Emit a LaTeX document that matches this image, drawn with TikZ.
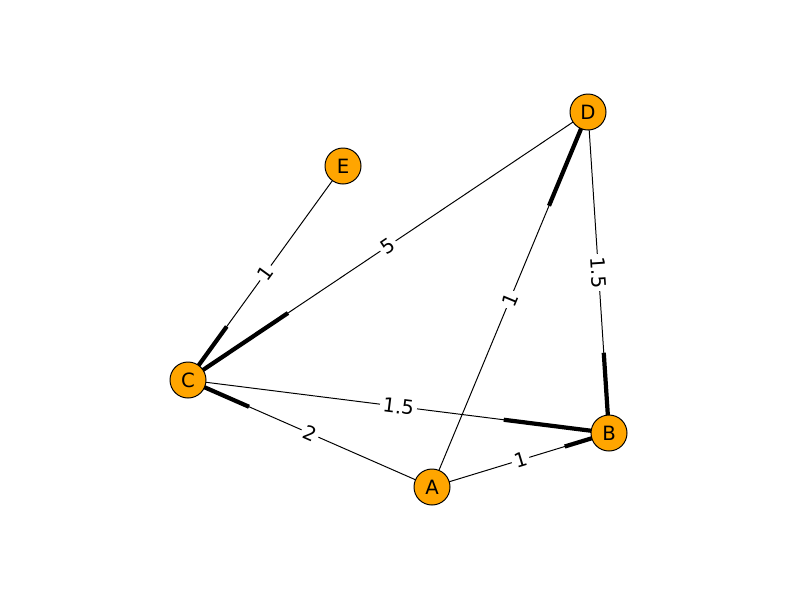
\documentclass[tikz,border=0pt]{standalone}
\usepackage{fontspec}
\setmainfont{DejaVu Sans}
\usetikzlibrary{calc}
\tikzset{
  vtx/.style={circle,draw=black,line width=0.7pt,fill={rgb,255:red,255;green,165;blue,0},minimum size=0.9cm,inner sep=0pt,font=\fontsize{14}{16}\selectfont},
  edgeline/.style={line width=0.7pt,black},
  headline/.style={line width=3pt,black},
  lbl/.style={midway,sloped,fill=white,inner sep=2pt,font=\fontsize{14}{16}\selectfont}
}
\begin{document}
\begin{tikzpicture}[x=0.025cm,y=-0.025cm]
\useasboundingbox (0,0) rectangle (800,600);
\coordinate (pD) at (588,112);
\coordinate (pE) at (343,166);
\coordinate (pC) at (188,380);
\coordinate (pB) at (609,433);
\coordinate (pA) at (432,487);
% edges
\draw[edgeline] (pE) -- (pC) node[lbl]{1};
\draw[headline] (pC) -- ($(pC)!0.25!(pE)$);
\draw[edgeline] (pD) -- (pC) node[lbl]{5};
\draw[headline] (pC) -- ($(pC)!0.25!(pD)$);
\draw[edgeline] (pA) -- (pD) node[lbl]{1};
\draw[headline] (pD) -- ($(pD)!0.25!(pA)$);
\draw[edgeline] (pD) -- (pB) node[lbl]{1.5};
\draw[headline] (pB) -- ($(pB)!0.25!(pD)$);
\draw[edgeline] (pC) -- (pB) node[lbl]{1.5};
\draw[headline] (pB) -- ($(pB)!0.25!(pC)$);
\draw[edgeline] (pA) -- (pC) node[lbl]{2};
\draw[headline] (pC) -- ($(pC)!0.25!(pA)$);
\draw[edgeline] (pA) -- (pB) node[lbl]{1};
\draw[headline] (pB) -- ($(pB)!0.25!(pA)$);
% nodes
\node[vtx] (D) at (pD) {D};
\node[vtx] (E) at (pE) {E};
\node[vtx] (C) at (pC) {C};
\node[vtx] (B) at (pB) {B};
\node[vtx] (A) at (pA) {A};
\end{tikzpicture}
\end{document}
